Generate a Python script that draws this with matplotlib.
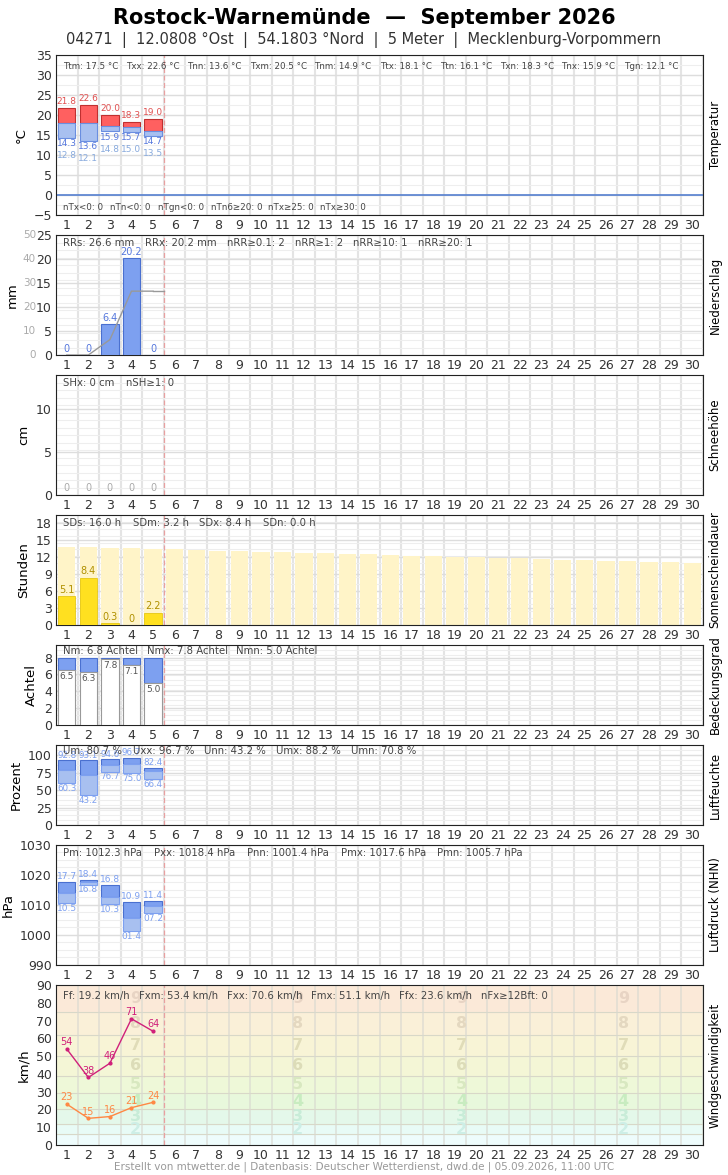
import matplotlib
matplotlib.use("Agg")
import matplotlib.pyplot as plt
import numpy as np

days = np.arange(1, 31)
d5 = np.arange(1, 6)
tmax = [21.8, 22.6, 20.0, 18.3, 19.0]
tmid = [18.0, 18.0, 17.3, 17.0, 15.9]
tmin = [14.3, 13.6, 15.9, 15.7, 14.7]
tgmin = [12.8, 12.1, 14.8, 15.0, 13.5]
rr = [0, 0, 6.4, 20.2, 0]
rr_cum = [0, 0, 6.4, 26.6, 26.6]
snow = [0, 0, 0, 0, 0]
sun = [5.1, 8.4, 0.3, 0, 2.2]
sun_astro = [13.9, 13.8, 13.7, 13.6, 13.5, 13.4, 13.3, 13.2, 13.1, 13.0, 12.9, 12.8, 12.7, 12.6, 12.5,
             12.4, 12.3, 12.2, 12.1, 12.0, 11.9, 11.8, 11.7, 11.6, 11.5, 11.4, 11.3, 11.2, 11.1, 11.0]
cloud = [6.5, 6.3, 7.8, 7.1, 5.0]
hum_max = [92.8, 93.1, 94.6, 96.7, 82.4]
hum_mean = [79, 72, 86, 87, 77]
hum_min = [60.3, 43.2, 76.7, 75.0, 66.4]
p_max = [1017.7, 1018.4, 1016.8, 1010.9, 1011.4]
p_mean = [1014.0, 1017.5, 1012.5, 1005.5, 1009.5]
p_min = [1010.5, 1016.8, 1010.3, 1001.4, 1007.2]
gust = [54, 38, 46, 71, 64]
wind = [23, 15, 16, 21, 24]

W, H = 728, 1175
fig = plt.figure(figsize=(W/100, H/100), dpi=100)
fig.text(0.5, 1-18/H, "Rostock-Warnemünde  —  September 2026", ha="center", va="center", fontsize=15, fontweight="bold")
fig.text(0.5, 1-40/H, "04271  |  12.0808 °Ost  |  54.1803 °Nord  |  5 Meter  |  Mecklenburg-Vorpommern", ha="center", va="center", fontsize=10.5, color="#333")
fig.text(0.5, 1-1167/H, "Erstellt von mtwetter.de | Datenbasis: Deutscher Wetterdienst, dwd.de | 05.09.2026, 11:00 UTC", ha="center", va="center", fontsize=7.5, color="#999")

L, R = 56, 703
def mkax(top, bot, ylim, yticks, ylabel, rlabel):
    ax = fig.add_axes([L/W, 1-bot/H, (R-L)/W, (bot-top)/H])
    ax.set_xlim(0.5, 30.5)
    ax.set_ylim(*ylim)
    ax.set_xticks(days)
    ax.set_yticks(yticks)
    ax.tick_params(length=0, labelsize=9, colors="#333", pad=3)
    for x in np.arange(0.5, 31, 1):
        ax.axvline(x, color="#e4e4e4", lw=1.5, zorder=0)
    for y in np.linspace(ylim[0], ylim[1], 17):
        ax.axhline(y, color="#eeeeee", lw=0.8, zorder=0)
    for y in yticks:
        ax.axhline(y, color="#dddddd", lw=1, zorder=0)
    ax.axvline(5.5, color="#e8a0a0", lw=0.9, ls=(0, (4, 2)), zorder=1)
    ax.set_ylabel(ylabel, fontsize=9.5)
    fig.text((R+12)/W, 1-(top+bot)/2/H, rlabel, rotation=90, ha="center", va="center", fontsize=8.5)
    for s in ax.spines.values():
        s.set_color("#222")
    return ax

def stats(ax, items, xs, y=0.93, fs=7.3, color="#444"):
    for t, xp in zip(items, xs):
        ax.text((xp-L)/(R-L), y, t, transform=ax.transAxes, fontsize=fs, color=color, va="center")

bw = 0.8
# Temperature
ax = mkax(55, 215, (-5, 35), range(-5, 40, 5), "°C", "Temperatur")
ax.bar(d5, np.subtract(tmax, tmid), bottom=tmid, width=bw, color="#ff6060", edgecolor="#c03030", lw=0.8, zorder=3)
ax.bar(d5, np.subtract(tmid, tmin), bottom=tmin, width=bw, color="#a8c0f0", edgecolor="#6a8ee0", lw=0.8, zorder=3)
ax.axhline(0, color="#5580d0", lw=1.2)
for i in range(5):
    ax.text(d5[i], tmax[i]+0.4, f"{tmax[i]:.1f}", ha="center", va="bottom", fontsize=6.5, color="#e05050")
    ax.text(d5[i], tmin[i]-0.3, f"{tmin[i]:.1f}", ha="center", va="top", fontsize=6.5, color="#5577dd")
    ax.text(d5[i], tmin[i]-3.3, f"{tgmin[i]:.1f}", ha="center", va="top", fontsize=6.5, color="#88aadd")
stats(ax, ["Ttm: 17.5 °C", "Txx: 22.6 °C", "Tnn: 13.6 °C", "Txm: 20.5 °C", "Tnm: 14.9 °C",
           "Ttx: 18.1 °C", "Ttn: 16.1 °C", "Txn: 18.3 °C", "Tnx: 15.9 °C", "Tgn: 12.1 °C"],
      [63, 126, 187, 250, 314, 380, 440, 500, 561, 624], fs=6.3)
stats(ax, ["nTx<0: 0", "nTn<0: 0", "nTgn<0: 0", "nTn6≥20: 0", "nTx≥25: 0", "nTx≥30: 0"],
      [63, 110, 158, 211, 268, 320], y=0.045, fs=6.3)

# Precip
ax = mkax(235, 355, (0, 25), range(0, 30, 5), "mm", "Niederschlag")
ax.bar(d5, rr, width=bw, color="#7da0f0", edgecolor="#4a70d0", lw=0.8, zorder=3)
ax.plot(d5, np.array(rr_cum) / 2, color="#999", lw=1, zorder=4)
ax.plot([5, 5.5], [13.3, 13.3], color="#999", lw=1, zorder=4)
for i in range(5):
    ax.text(d5[i], rr[i]+0.3, f"{rr[i]:g}", ha="center", va="bottom", fontsize=7, color="#5577dd")
for v in range(0, 60, 10):
    ax.text((36-L)/(R-L), v/50, str(v), transform=ax.transAxes, ha="right", va="center", fontsize=7.5, color="#aaa")
ax.yaxis.set_label_coords((19-L)/(R-L), 0.5)
stats(ax, ["RRs: 26.6 mm", "RRx: 20.2 mm", "nRR≥0.1: 2", "nRR≥1: 2", "nRR≥10: 1", "nRR≥20: 1"],
      [63, 145, 227, 295, 353, 418])

# Snow
ax = mkax(375, 495, (0, 14), [0, 5, 10], "cm", "Schneehöhe")
for i in range(5):
    ax.text(d5[i], 0.2, f"{snow[i]}", ha="center", va="bottom", fontsize=7, color="#aaa")
stats(ax, ["SHx: 0 cm", "nSH≥1: 0"], [63, 126])

# Sunshine
ax = mkax(515, 625, (0, 19.5), range(0, 19, 3), "Stunden", "Sonnenscheindauer")
ax.bar(days, sun_astro, width=bw, color="#fff4c8", zorder=2)
ax.bar(d5, sun, width=bw, color="#ffe020", edgecolor="#e0c000", lw=0.5, zorder=3)
for i in range(5):
    ax.text(d5[i], sun[i]+0.2, f"{sun[i]:g}", ha="center", va="bottom", fontsize=7, color="#b09000")
stats(ax, ["SDs: 16.0 h", "SDm: 3.2 h", "SDx: 8.4 h", "SDn: 0.0 h"], [63, 133, 199, 263])

# Cloud
ax = mkax(645, 725, (0, 9.5), range(0, 9, 2), "Achtel", "Bedeckungsgrad")
ax.bar(d5, np.subtract(8, cloud), bottom=cloud, width=bw, color="#7da0f0", edgecolor="#4a70d0", lw=0.8, zorder=3)
ax.bar(d5, cloud, width=bw, color="white", edgecolor="#999", lw=0.8, zorder=3)
for i in range(5):
    ax.text(d5[i], cloud[i]-0.2, f"{cloud[i]:.1f}", ha="center", va="top", fontsize=6.5, color="#555", zorder=5)
stats(ax, ["Nm: 6.8 Achtel", "Nmx: 7.8 Achtel", "Nmn: 5.0 Achtel"], [63, 147, 236], y=0.92)

# Humidity
ax = mkax(745, 825, (0, 115), range(0, 101, 25), "Prozent", "Luftfeuchte")
ax.bar(d5, np.subtract(hum_max, hum_mean), bottom=hum_mean, width=bw, color="#7da0f0", edgecolor="#4a70d0", lw=0.8, zorder=3)
ax.bar(d5, np.subtract(hum_mean, hum_min), bottom=hum_min, width=bw, color="#a8c0f0", edgecolor="#7da0f0", lw=0.8, zorder=3)
for i in range(5):
    ax.text(d5[i], hum_max[i]+0.5, f"{hum_max[i]:.1f}", ha="center", va="bottom", fontsize=6.3, color="#7da0f0")
    ax.text(d5[i], hum_min[i]-1, f"{hum_min[i]:.1f}", ha="center", va="top", fontsize=6.3, color="#7da0f0")
stats(ax, ["Um: 80.7 %", "Uxx: 96.7 %", "Unn: 43.2 %", "Umx: 88.2 %", "Umn: 70.8 %"],
      [63, 133, 204, 276, 351], y=0.93)

# Pressure
ax = mkax(845, 965, (990, 1030), range(990, 1031, 10), "hPa", "Luftdruck (NHN)")
ax.bar(d5, np.subtract(p_max, p_mean), bottom=p_mean, width=bw, color="#7da0f0", edgecolor="#4a70d0", lw=0.8, zorder=3)
ax.bar(d5, np.subtract(p_mean, p_min), bottom=p_min, width=bw, color="#a8c0f0", edgecolor="#7da0f0", lw=0.8, zorder=3)
for i in range(5):
    ax.text(d5[i], p_max[i]+0.3, f"{p_max[i]%100:04.1f}", ha="center", va="bottom", fontsize=6.5, color="#7da0f0")
    ax.text(d5[i], p_min[i]-0.3, f"{p_min[i]%100:04.1f}", ha="center", va="top", fontsize=6.5, color="#7da0f0")
stats(ax, ["Pm: 1012.3 hPa", "Pxx: 1018.4 hPa", "Pnn: 1001.4 hPa", "Pmx: 1017.6 hPa", "Pmn: 1005.7 hPa"],
      [63, 154, 247, 341, 437])

# Wind
ax = mkax(985, 1145, (0, 90), range(0, 91, 10), "km/h", "Windgeschwindigkeit")
bands = [0, 6, 12, 20, 29, 39, 50, 62, 75, 90]
bcol = ["#eefcfc", "#e8fbf6", "#e4f8ea", "#e8f8dc", "#eef8d8", "#f4f6d6", "#f8f4d6", "#faf0d8", "#fbe9d8"]
for i in range(len(bands)-1):
    ax.axhspan(bands[i], bands[i+1], color=bcol[i], zorder=0)
    ax.axhline(bands[i+1], color="#d8d8c8", lw=0.8, zorder=0.5)
for x in np.arange(0.5, 31, 1):
    ax.axvline(x, color="#d8d8d0", lw=1.2, zorder=0.6, alpha=0.7)
bft_col = ["#cdeee6", "#c8ecd8", "#c8ecc0", "#d8e8c0", "#dcdcb8", "#e0dcb8", "#e4d8c0", "#e8d4c4"]
for xb in [4.2, 11.7, 19.3, 26.8]:
    for i in range(1, len(bands)-1):
        ax.text(xb, (bands[i]+bands[i+1])/2, str(i+1), ha="center", va="center", fontsize=11.5, fontweight="bold", color=bft_col[i-1], zorder=1)
ax.plot(d5, gust, color="#d0207a", lw=1, marker="o", ms=2, zorder=4)
ax.plot(d5, wind, color="#ff8844", lw=1, marker="o", ms=2, zorder=4)
for i in range(5):
    ax.text(d5[i], gust[i]+1, str(gust[i]), ha="center", va="bottom", fontsize=7, color="#d0207a", zorder=5)
    ax.text(d5[i], wind[i]+1, str(wind[i]), ha="center", va="bottom", fontsize=7, color="#ff8844", zorder=5)
stats(ax, ["Ff: 19.2 km/h", "Fxm: 53.4 km/h", "Fxx: 70.6 km/h", "Fmx: 51.1 km/h", "Ffx: 23.6 km/h", "nFx≥12Bft: 0"],
      [63, 139, 227, 311, 399, 481])

fig.savefig("out.png", dpi=100)
